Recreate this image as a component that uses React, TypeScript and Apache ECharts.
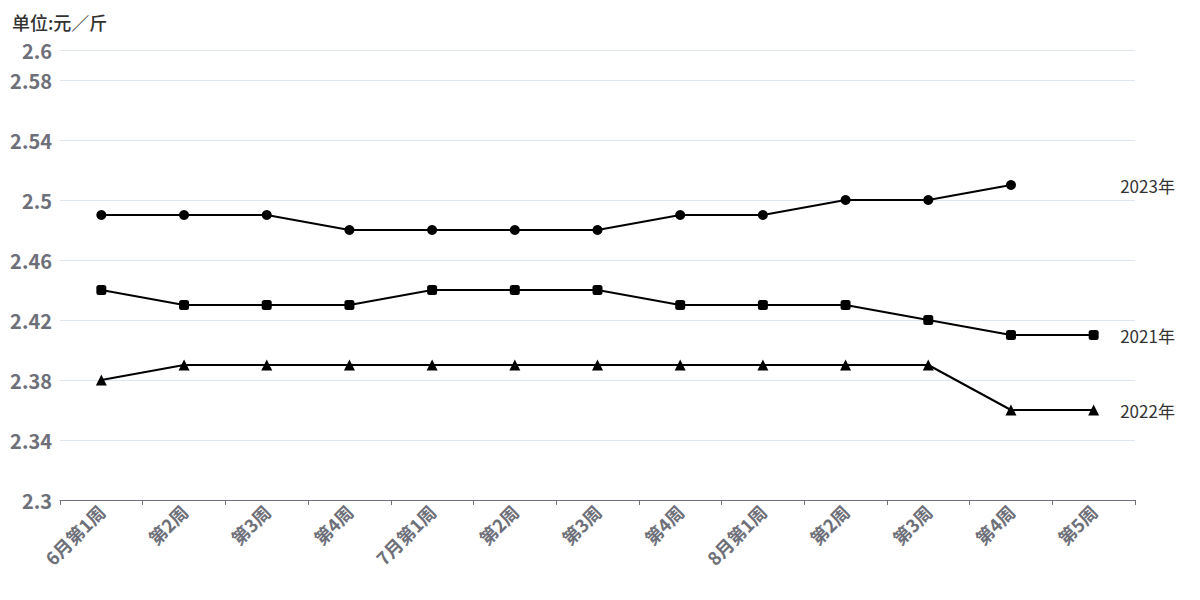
import React, { useEffect, useRef } from "react";
import * as echarts from "echarts";

const categories = ["6月第1周", "第2周", "第3周", "第4周", "7月第1周", "第2周", "第3周", "第4周", "8月第1周", "第2周", "第3周", "第4周", "第5周"];
const s2023 = [2.49, 2.49, 2.49, 2.48, 2.48, 2.48, 2.48, 2.49, 2.49, 2.5, 2.5, 2.51, null];
const s2021 = [2.44, 2.43, 2.43, 2.43, 2.44, 2.44, 2.44, 2.43, 2.43, 2.43, 2.42, 2.41, 2.41];
const s2022 = [2.38, 2.39, 2.39, 2.39, 2.39, 2.39, 2.39, 2.39, 2.39, 2.39, 2.39, 2.36, 2.36];
const seriesNames = ["2023年", "2021年", "2022年"];
const labelAnchors = [2.51, 2.41, 2.36];

const FONT = "'Noto Sans CJK SC', 'Noto Sans', sans-serif";

export default function App() {
  const ref = useRef<HTMLDivElement>(null);
  useEffect(() => {
    const chart = echarts.init(ref.current!, null, { renderer: "svg" });
    const mk = (name: string, data: any[], symbol: string, size: number, anchor: number) => ({
      name,
      type: "line",
      data,
      symbol,
      symbolSize: size,
      lineStyle: { color: "#000", width: 2 },
      itemStyle: { color: "#000" },
      markPoint: {
        symbol: "circle",
        symbolSize: 1,
        itemStyle: { color: "transparent" },
        label: {
          show: true,
          position: "right",
          distance: 26,
          formatter: name,
          color: "#333",
          fontSize: 17,
          fontFamily: FONT,
        },
        data: [{ coord: [categories.length - 1, anchor], value: name }],
      },
    });
    chart.setOption({
      animation: false,
      textStyle: { fontFamily: FONT },
      title: {
        text: "单位:元／斤",
        left: 7,
        top: 8,
        textStyle: { fontSize: 18, fontWeight: 500, color: "#333", fontFamily: FONT },
      },
      grid: { left: 60, right: 65, top: 50, bottom: 100 },
      xAxis: {
        type: "category",
        data: categories,
        boundaryGap: true,
        axisLine: { lineStyle: { color: "#6e7079" } },
        axisTick: { show: true, lineStyle: { color: "#6e7079" } },
        axisLabel: {
          rotate: 45,
          interval: 0,
          fontSize: 18,
          fontWeight: "bold",
          color: "#6e7079",
          fontFamily: FONT,
        },
      },
      yAxis: {
        type: "value",
        min: 2.3,
        max: 2.6,
        interval: 0.04,
        axisLine: { show: false },
        axisTick: { show: false },
        splitLine: { lineStyle: { color: "#e0e6f1" } },
        axisLabel: {
          fontSize: 20,
          fontWeight: "bold",
          color: "#6e7079",
          fontFamily: FONT,
          margin: 8,
        },
      },
      series: [
        mk(seriesNames[0], s2023, "circle", 10, labelAnchors[0]),
        mk(seriesNames[1], s2021, "roundRect", 10, labelAnchors[1]),
        mk(seriesNames[2], s2022, "triangle", 11, labelAnchors[2]),
      ],
    });
    return () => chart.dispose();
  }, []);
  return <div ref={ref} style={{ width: 1200, height: 600, position: "absolute", left: 0, top: 0 }} />;
}
